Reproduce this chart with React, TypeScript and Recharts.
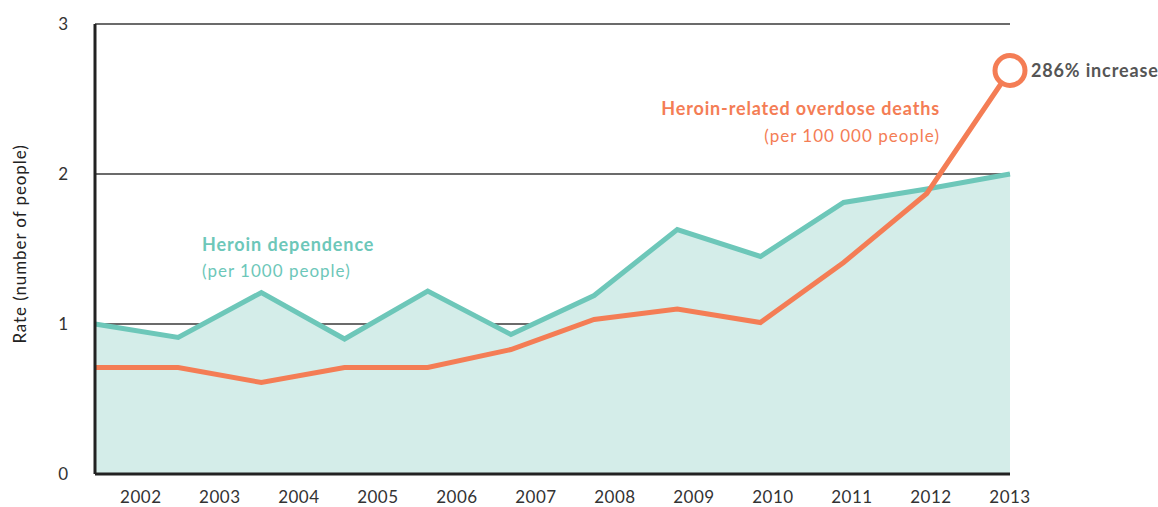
import { ComposedChart, Area, Line, XAxis, YAxis, CartesianGrid } from 'recharts'

const years = [2002, 2003, 2004, 2005, 2006, 2007, 2008, 2009, 2010, 2011, 2012, 2013]
const dependence = [1.0, 0.91, 1.21, 0.9, 1.22, 0.93, 1.19, 1.63, 1.45, 1.81, 1.9, 2.0]
const overdose = [0.71, 0.71, 0.61, 0.71, 0.71, 0.83, 1.03, 1.1, 1.01, 1.41, 1.87, 2.69]
const yTicks = [0, 1, 2, 3]

const TEAL = '#6dc7b9'
const TEAL_FILL = '#d4ede9'
const ORANGE = '#f47d55'
const FONT = 'Lato, "Open Sans", sans-serif'

const data = years.map((year, i) => ({
  i,
  year,
  dependence: dependence[i],
  overdose: overdose[i],
}))

const last = data.length - 1

function EndDot(props: any) {
  const { cx, cy, index } = props
  if (index !== last) return <g key={`d${index}`} />
  return <circle key={`d${index}`} cx={cx} cy={cy} r={15} fill="#fff" stroke={ORANGE} strokeWidth={5} />
}

export default function App() {
  return (
    <div style={{ position: 'absolute', left: 0, top: 0, fontFamily: FONT }}>
      <ComposedChart width={1158} height={507} data={data} margin={{ top: 24, right: 148, left: 35, bottom: 3 }}>
        <CartesianGrid horizontal vertical={false} stroke="#6b6b6b" strokeWidth={2} />
        {/* year labels sit on their own scale, offset from the data points */}
        <XAxis
          xAxisId="years"
          dataKey="year"
          type="number"
          domain={[2001.42, 2013]}
          allowDataOverflow
          ticks={years}
          interval={0}
          height={30}
          tickLine={false}
          tickSize={0}
          tickMargin={17}
          axisLine={{ stroke: '#222', strokeWidth: 3 }}
          tick={{ fontSize: 17, fill: '#333', fontFamily: FONT, letterSpacing: 0.5 }}
        />
        <XAxis xAxisId="data" dataKey="i" type="number" domain={[0, 11]} height={0} hide />
        <YAxis
          domain={[0, 3]}
          ticks={yTicks}
          width={60}
          tickLine={false}
          tickSize={0}
          tickMargin={27}
          axisLine={{ stroke: '#222', strokeWidth: 3 }}
          tick={{ fontSize: 17, fill: '#333', fontFamily: FONT }}
        />
        <Area
          xAxisId="data"
          dataKey="dependence"
          type="linear"
          stroke={TEAL}
          strokeWidth={5}
          fill={TEAL_FILL}
          fillOpacity={1}
          isAnimationActive={false}
        />
        <Line
          xAxisId="data"
          dataKey="overdose"
          type="linear"
          stroke={ORANGE}
          strokeWidth={5}
          dot={EndDot}
          activeDot={false}
          isAnimationActive={false}
        />
        <text x={19} y={244} transform="rotate(-90 19 244)" textAnchor="middle" dominantBaseline="central" fontSize={17} letterSpacing={0.9} fill="#222" fontFamily={FONT}>
          Rate (number of people)
        </text>
        <text x={202} y={244} dominantBaseline="central" fontSize={18} letterSpacing={0.9} fontWeight={700} fill={TEAL} fontFamily={FONT}>
          Heroin dependence
        </text>
        <text x={202} y={270} dominantBaseline="central" fontSize={17} letterSpacing={1} fill={TEAL} fontFamily={FONT}>
          (per 1000 people)
        </text>
        <text x={940} y={108} textAnchor="end" dominantBaseline="central" fontSize={18} letterSpacing={0.85} fontWeight={700} fill={ORANGE} fontFamily={FONT}>
          Heroin-related overdose deaths
        </text>
        <text x={940} y={135} textAnchor="end" dominantBaseline="central" fontSize={17} letterSpacing={1} fill={ORANGE} fontFamily={FONT}>
          (per 100 000 people)
        </text>
        <text x={1031} y={70} dominantBaseline="central" fontSize={18} letterSpacing={0.85} fontWeight={700} fill="#555" fontFamily={FONT}>
          286% increase
        </text>
      </ComposedChart>
    </div>
  )
}
